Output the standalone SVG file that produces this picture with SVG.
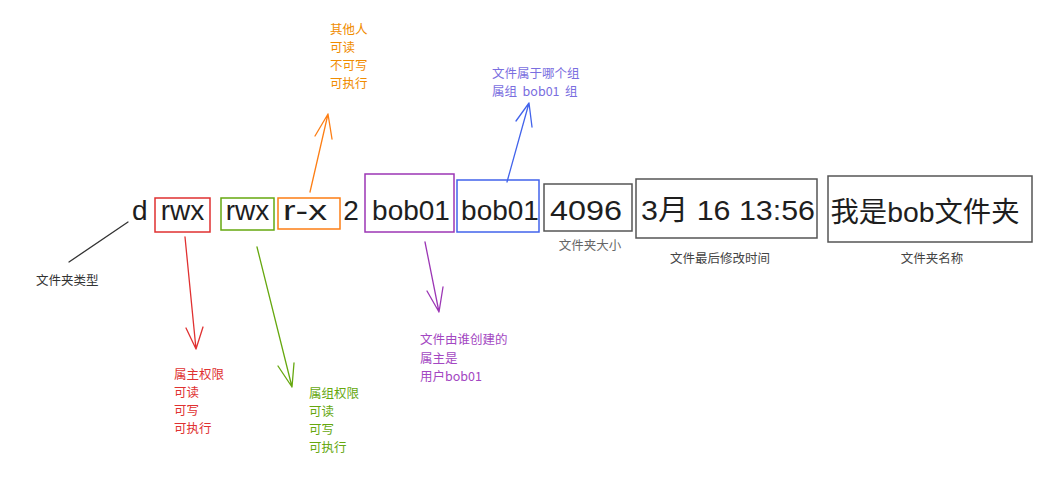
<svg xmlns="http://www.w3.org/2000/svg" width="1053" height="482" viewBox="0 0 1053 482">
<style>
.box{fill:none;stroke-width:1.5}
.big{font-family:"Liberation Sans","Noto Sans CJK SC",sans-serif;font-size:28px;fill:#1e1e1e}
.lbl{font-family:"Noto Sans CJK SC","Liberation Sans",sans-serif;font-size:12.5px}
.ln{fill:none;stroke-width:1.3;stroke-linecap:round;stroke-linejoin:round}
</style>
<rect width="1053" height="482" fill="#ffffff"/>
<g id="type">
<text class="big" x="132" y="220">d</text>
</g>
<g id="owner-perm">
<rect class="box" x="155" y="198" width="55" height="34" stroke="#e03131"/>
<text class="big" x="182.5" y="220" text-anchor="middle">rwx</text>
</g>
<g id="group-perm">
<rect class="box" x="221" y="198" width="53" height="32" stroke="#66a80f"/>
<text class="big" x="247.5" y="220" text-anchor="middle">rwx</text>
</g>
<g id="other-perm">
<rect class="box" x="278" y="198" width="62" height="31" stroke="#fd7e14"/>
<text class="big" x="283" y="220" textLength="44" lengthAdjust="spacingAndGlyphs">r-x</text>
</g>
<g id="links">
<text class="big" x="351" y="220" text-anchor="middle">2</text>
</g>
<g id="owner">
<rect class="box" x="365" y="174" width="89" height="58" stroke="#9c36b5"/>
<text class="big" x="411" y="220" text-anchor="middle">bob01</text>
</g>
<g id="group">
<rect class="box" x="457" y="180" width="82" height="52" stroke="#4263eb"/>
<text class="big" x="500" y="220" text-anchor="middle">bob01</text>
</g>
<g id="size">
<rect class="box" x="544" y="184" width="88" height="47" stroke="#555"/>
<text class="big" x="586" y="220" text-anchor="middle" textLength="72" lengthAdjust="spacingAndGlyphs">4096</text>
</g>
<g id="mtime">
<rect class="box" x="636" y="179" width="181" height="59" stroke="#555"/>
<text class="big" x="728" y="220" text-anchor="middle" textLength="174" lengthAdjust="spacingAndGlyphs">3月 16 13:56</text>
</g>
<g id="name">
<rect class="box" x="828" y="176" width="204" height="66" stroke="#555"/>
<text class="big" x="925" y="222" text-anchor="middle" textLength="189" lengthAdjust="spacingAndGlyphs">我是bob文件夹</text>
</g>
<g id="connectors">
<path class="ln" stroke="#333" d="M128 222 L69 262"/>
<path class="ln" stroke="#e03131" d="M185 237 L196 349 M186 328 L196 349 L203 327"/>
<path class="ln" stroke="#66a80f" d="M257 247 L292 387 M278 366 L292 387 L294 363"/>
<path class="ln" stroke="#fd7e14" d="M310 192 L328 114 M315 136 L328 114 L332 139"/>
<path class="ln" stroke="#9c36b5" d="M425 242 L439 312 M427 291 L439 312 L443 287"/>
<path class="ln" stroke="#4263eb" d="M507 182 L529 103 M516 121 L529 103 L532 127"/>
</g>
<g id="labels" class="lbl">
<text x="36" y="285" fill="#333">文件夹类型</text>
<text x="590" y="250" fill="#666" text-anchor="middle">文件夹大小</text>
<text x="720" y="263" fill="#444" text-anchor="middle">文件最后修改时间</text>
<text x="932" y="263" fill="#444" text-anchor="middle">文件夹名称</text>
<g fill="#f08c00">
<text x="330" y="34">其他人</text>
<text x="330" y="52">可读</text>
<text x="330" y="70">不可写</text>
<text x="330" y="88">可执行</text>
</g>
<g fill="#7a6ee0">
<text x="492" y="78">文件属于哪个组</text>
<text x="492" y="96" xml:space="preserve" style="white-space:pre">属组  bob01  组</text>
</g>
<g fill="#e03131">
<text x="174" y="379">属主权限</text>
<text x="174" y="397">可读</text>
<text x="174" y="415">可写</text>
<text x="174" y="433">可执行</text>
</g>
<g fill="#66a80f">
<text x="309" y="398">属组权限</text>
<text x="309" y="416">可读</text>
<text x="309" y="434">可写</text>
<text x="309" y="452">可执行</text>
</g>
<g fill="#a347c2">
<text x="420" y="344">文件由谁创建的</text>
<text x="420" y="363">属主是</text>
<text x="420" y="381">用户bob01</text>
</g>
</g>
</svg>
